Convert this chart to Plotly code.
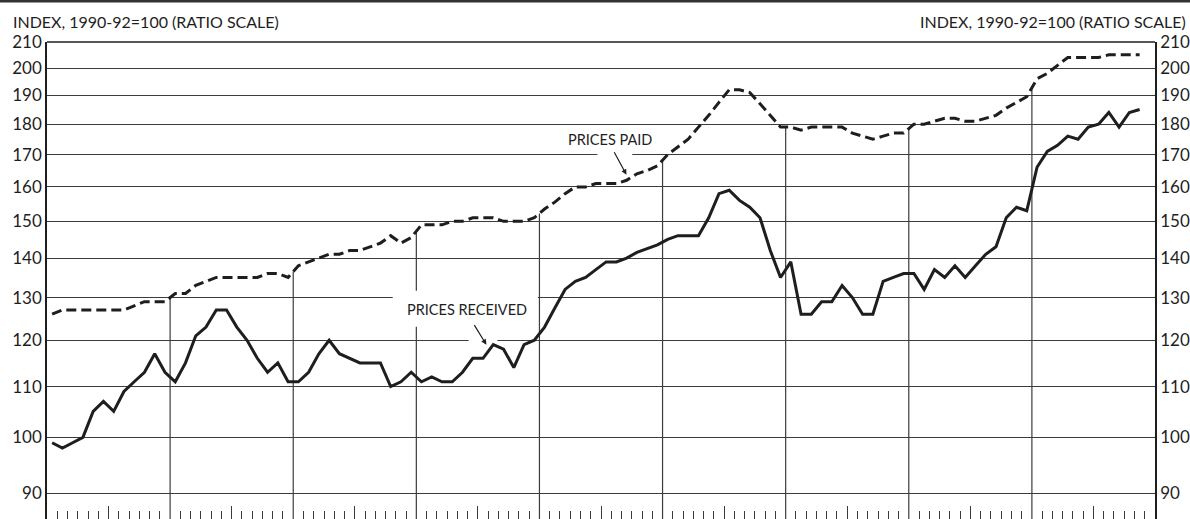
import numpy as np
import plotly.graph_objects as go

# ---------------- data (monthly index values, 1990-92=100) ----------------
prices_received = [
    99, 98, 99, 100, 105, 107, 105, 109, 111, 113, 117, 113,
    111, 115, 121, 123, 127, 127, 123, 120, 116, 113, 115, 111,
    111, 113, 117, 120, 117, 116, 115, 115, 115, 110, 111, 113,
    111, 112, 111, 111, 113, 116, 116, 119, 118, 114, 119, 120,
    123, 127.5, 132, 134, 135, 137, 139, 139, 140, 141.5, 142.5, 143.5,
    145, 146, 146, 146, 151, 158, 159, 156, 154, 151, 142, 135,
    139, 126, 126, 129, 129, 133, 130, 126, 126, 134, 135, 136,
    136, 132, 137, 135, 138, 135, 138, 141, 143, 151, 154, 153,
    166, 171, 173, 176, 175, 179, 180, 184, 179, 184, 185,
]
prices_paid = [
    126, 127, 127, 127, 127, 127, 127, 127, 128, 129, 129, 129,
    131, 131, 133, 134, 135, 135, 135, 135, 135, 136, 136, 135,
    138, 139, 140, 141, 141, 142, 142, 143, 144, 146, 144, 145.5,
    149, 149, 149, 150, 150, 151, 151, 151, 150, 150, 150, 151,
    153.5, 155.5, 158, 160, 160, 161, 161, 161, 162, 164, 165, 166.5,
    170, 172.5, 175, 179, 183, 187.5, 192, 192, 191, 187, 183, 179,
    179, 178, 179, 179, 179, 179, 177, 176, 175, 176, 177, 177,
    180, 180, 181, 182, 182, 181, 181, 182, 183, 185.5, 187.5, 189.5,
    196, 198, 201, 204, 204, 204, 204, 205, 205, 205, 205,
]
n_years = 9
months_per_year = 12
y_ticks = [90, 100, 110, 120, 130, 140, 150, 160, 170, 180, 190, 200, 210]
y_tick_labels = [str(v) for v in y_ticks]
axis_title = "INDEX, 1990-92=100 (RATIO SCALE)"
label_paid = "PRICES PAID"
label_received = "PRICES RECEIVED"

# ---------------- derived ----------------
n_total = n_years * months_per_year
x_months = [i + 0.5 for i in range(len(prices_received))]
y_low, y_high = 85.8, 210
year_bounds = [months_per_year * k for k in range(1, n_years)]
major_ticks = [months_per_year * k + 6 for k in range(n_years)]
minor_ticks = [m for m in range(1, n_total) if m % 6 != 0]

log_paid = np.log(prices_paid)
def paid_at(x):
    return float(np.exp(np.interp(x, x_months, log_paid)))

INK = "#1e1e1e"
GRID = "#3c3c3c"
FONT = "Lato"

fig = go.Figure()

# vertical year lines: from bottom up to the prices-paid curve
vx, vy = [], []
for b in year_bounds:
    vx += [b, b, None]
    vy += [80, paid_at(b), None]
fig.add_trace(go.Scatter(x=vx, y=vy, mode="lines", line=dict(color=GRID, width=1.2),
                         hoverinfo="skip", showlegend=False))

# white knock-out boxes behind the labels / arrows
def box(x0, x1, y0, y1):
    return go.Scatter(x=[x0, x1, x1, x0, x0], y=[y0, y0, y1, y1, y0], mode="lines",
                      fill="toself", fillcolor="white", line=dict(width=0),
                      hoverinfo="skip", showlegend=False)

fig.add_trace(box(33.7, 47.85, 123.1, 131.7))
fig.add_trace(box(41.1, 43.9, 118.8, 121.3))
fig.add_trace(box(53.65, 57.05, 168.6, 171.5))

fig.add_trace(go.Scatter(x=x_months, y=prices_paid, mode="lines",
                         line=dict(color=INK, width=3, dash="10px,5px"),
                         hoverinfo="skip", showlegend=False))
fig.add_trace(go.Scatter(x=x_months, y=prices_received, mode="lines",
                         line=dict(color=INK, width=3),
                         hoverinfo="skip", showlegend=False))
# invisible trace to anchor right-hand axis
fig.add_trace(go.Scatter(x=x_months, y=prices_received, yaxis="y2", mode="lines",
                         line=dict(width=0), opacity=0, hoverinfo="skip", showlegend=False))

W, H = 1190, 519
ml, mr, mt, mb = 47, 35, 42, 0
pw, ph = W - ml - mr, H - mt - mb

def px_to_paper_x(px):
    return (px - ml) / pw
def px_to_paper_y(py):
    return (H - mb - py) / ph

yaxis_common = dict(
    type="log", range=[np.log10(y_low), np.log10(y_high)],
    tickmode="array", tickvals=y_ticks, ticktext=y_tick_labels,
    tickfont=dict(family=FONT, size=17, color=INK),
    showline=True, linecolor=INK, linewidth=1.6, ticks="", zeroline=False,
)

fig.update_layout(
    width=W, height=H,
    margin=dict(l=ml, r=mr, t=mt, b=mb, autoexpand=False),
    paper_bgcolor="white", plot_bgcolor="white",
    showlegend=False,
    xaxis=dict(range=[0, n_total], showgrid=False, zeroline=False, showline=False,
               tickmode="array", tickvals=major_ticks, ticks="inside", ticklen=13,
               tickwidth=1, tickcolor=GRID, showticklabels=False,
               minor=dict(tickmode="array", tickvals=minor_ticks, ticks="inside",
                          ticklen=8, tickwidth=1, tickcolor=GRID, showgrid=False)),
    yaxis=dict(**yaxis_common, side="left", showgrid=True, gridcolor=GRID, gridwidth=1.2),
    yaxis2=dict(**yaxis_common, side="right", overlaying="y", showgrid=False),
    font=dict(family=FONT, color=INK),
)

fig.add_shape(type="line", xref="paper", yref="paper",
              x0=0, x1=1, y0=1, y1=1, line=dict(color=INK, width=1.6))
fig.add_shape(type="line", xref="paper", yref="paper",
              x0=px_to_paper_x(0), x1=px_to_paper_x(W), y0=px_to_paper_y(1), y1=px_to_paper_y(1),
              line=dict(color="#333", width=3))

ann = []
ann.append(dict(text=axis_title, xref="paper", yref="paper", x=px_to_paper_x(11), y=px_to_paper_y(22),
                xanchor="left", yanchor="middle", showarrow=False, font=dict(size=16, color=INK)))
ann.append(dict(text=axis_title, xref="paper", yref="paper", x=px_to_paper_x(1188), y=px_to_paper_y(22),
                xanchor="right", yanchor="middle", showarrow=False, font=dict(size=16, color=INK)))
ann.append(dict(text=label_paid, x=54.9, y=np.log10(174.8), xanchor="center", yanchor="middle",
                showarrow=False, font=dict(size=14.5, color=INK)))
ann.append(dict(text=label_received, x=40.97, y=np.log10(127.2), xanchor="center", yanchor="middle",
                showarrow=False, font=dict(size=14.5, color=INK)))
ann.append(dict(text="", x=56.48, y=np.log10(163.7), ax=-13, ay=-24, showarrow=True,
                arrowhead=2, arrowsize=0.9, arrowwidth=1.2, arrowcolor=INK))
ann.append(dict(text="", x=42.83, y=np.log10(119.0), ax=-13, ay=-21, showarrow=True,
                arrowhead=2, arrowsize=0.9, arrowwidth=1.2, arrowcolor=INK))
fig.update_layout(annotations=ann)

fig.write_html("out.html",
               config={"displayModeBar": False},
               post_script="document.body.style.margin='0';document.body.style.padding='0';")
